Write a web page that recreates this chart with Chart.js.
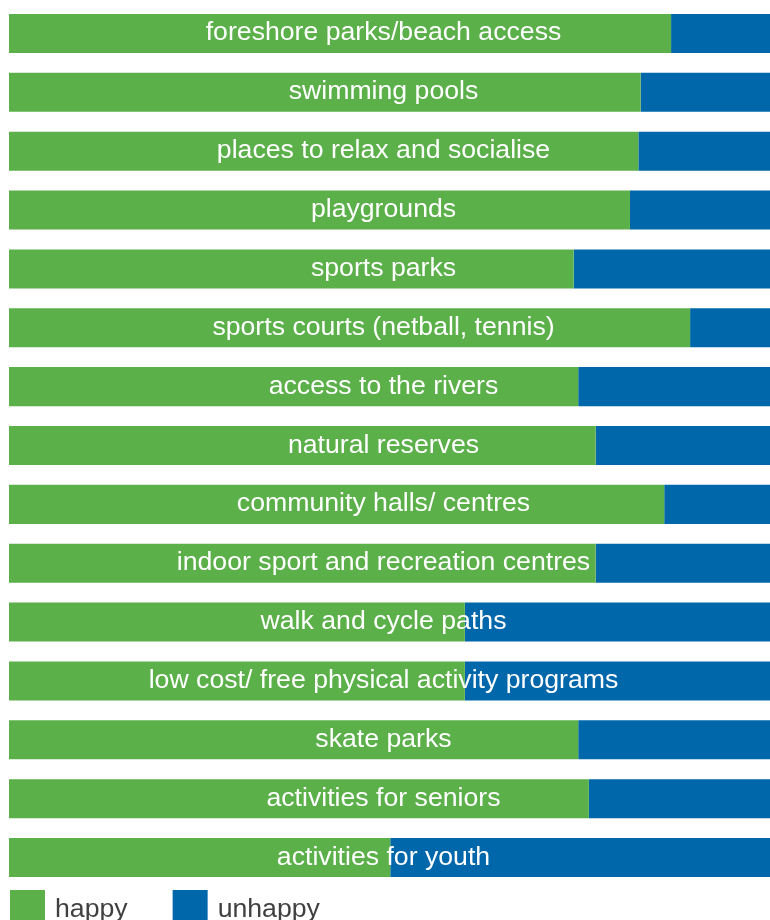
<!DOCTYPE html>
<html>
<head>
<meta charset="utf-8">
<script src="https://cdn.jsdelivr.net/npm/chart.js@4"></script>
<style>
  html, body { margin: 0; padding: 0; background: #fff; overflow: hidden; }
  canvas { display: block; }
</style>
</head>
<body>
<canvas id="chart" width="770" height="920"></canvas>
<script>
// categories, top to bottom
const categories = [
    'foreshore parks/beach access',
    'swimming pools',
    'places to relax and socialise',
    'playgrounds',
    'sports parks',
    'sports courts (netball, tennis)',
    'access to the rivers',
    'natural reserves',
    'community halls/ centres',
    'indoor sport and recreation centres',
    'walk and cycle paths',
    'low cost/ free physical activity programs',
    'skate parks',
    'activities for seniors',
    'activities for youth'
];

// share of respondents (%)
const happy   = [87.0, 83.0, 82.7, 81.6, 74.2, 89.5, 74.8, 77.1, 86.1, 77.1, 59.9, 59.9, 74.8, 76.2, 50.1];
const unhappy = [13.0, 17.0, 17.3, 18.4, 25.8, 10.5, 25.2, 22.9, 13.9, 22.9, 40.1, 40.1, 25.2, 23.8, 49.9];

const seriesNames = ['happy', 'unhappy'];
const green = '#5bb04a';
const blue = '#0067ab';

// draws the category names in white over the middle of each bar
const barLabels = {
    id: 'barLabels',
    afterDatasetsDraw(chart) {
        const ctx = chart.ctx;
        const area = chart.chartArea;
        const y = chart.scales.y;
        ctx.save();
        ctx.font = '26.67px "Liberation Sans", Arial, sans-serif';
        ctx.fillStyle = '#ffffff';
        ctx.textAlign = 'center';
        ctx.textBaseline = 'alphabetic';
        categories.forEach((c, i) => {
            ctx.fillText(c, (area.left + area.right) / 2 - 6, y.getPixelForValue(i) + 7);
        });
        ctx.restore();
    }
};

// legend under the chart, square swatches, left aligned
const bottomLegend = {
    id: 'bottomLegend',
    afterDraw(chart) {
        const ctx = chart.ctx;
        const top = chart.chartArea.bottom + 3;
        ctx.save();
        ctx.font = '26.67px "Liberation Sans", Arial, sans-serif';
        ctx.textBaseline = 'alphabetic';
        let x = 10;
        chart.data.datasets.forEach(ds => {
            ctx.fillStyle = ds.backgroundColor;
            ctx.fillRect(x, top, 35, 35);
            ctx.fillStyle = '#404040';
            ctx.fillText(ds.label, x + 45, top + 27);
            x += 45 + ctx.measureText(ds.label).width + 45;
        });
        ctx.restore();
    }
};

new Chart(document.getElementById('chart'), {
    type: 'bar',
    data: {
        labels: categories,
        datasets: [
            { label: seriesNames[0], data: happy, backgroundColor: green },
            { label: seriesNames[1], data: unhappy, backgroundColor: blue }
        ]
    },
    options: {
        indexAxis: 'y',
        responsive: false,
        animation: false,
        layout: { padding: { left: 9, right: 0, top: 4, bottom: 33 } },
        datasets: {
            bar: { categoryPercentage: 1, barPercentage: 0.663, borderWidth: 0 }
        },
        scales: {
            x: { stacked: true, min: 0, max: 100, display: false },
            y: { stacked: true, display: false }
        },
        plugins: {
            legend: { display: false },
            tooltip: { enabled: false }
        }
    },
    plugins: [barLabels, bottomLegend]
});
</script>
</body>
</html>
